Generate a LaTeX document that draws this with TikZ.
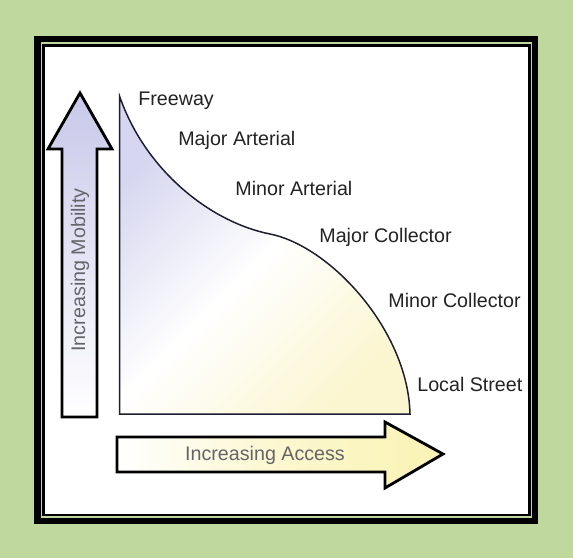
\documentclass[tikz,border=0pt]{standalone}
\usepackage{fontspec}
\setmainfont{Liberation Sans}
\usepackage{tikz}
\usetikzlibrary{positioning}
\usepackage{xcolor}
\definecolor{bggreen}{RGB}{190,216,157}
\definecolor{mobpurple}{RGB}{200,200,234}
\definecolor{accyellow}{RGB}{250,243,180}
\definecolor{curvelav}{RGB}{214,214,240}
\definecolor{curvecream}{RGB}{251,246,208}
\definecolor{curveline}{RGB}{30,30,50}
\definecolor{roadgray}{RGB}{35,35,35}
\definecolor{captiongray}{RGB}{100,100,105}
\tikzstyle{roadtext} = [anchor=base west, inner sep=0pt, text=roadgray, font=\fontsize{11.2}{13}\selectfont]
\tikzstyle{caption} = [inner sep=0pt, text=captiongray, font=\fontsize{11.2}{13}\selectfont]
\tikzstyle{blockarrow} = [line width=1.6pt, line join=miter, draw=black]

\begin{document}
\begin{tikzpicture}[x=0.02cm, y=-0.02cm]
% Background and frame
\useasboundingbox[fill=bggreen] (0,0) rectangle (573,558);
\fill[black] (34,36) rectangle (538,524);
\draw[bggreen, line width=0.6pt] (41.5,43) rectangle (531.5,517);
\fill[white] (45,46.5) rectangle (528,514);

% Mobility / access curve
\coordinate (apex) at (119.5,96);
\coordinate (bend) at (270,234);
\coordinate (foot) at (410,414);
\coordinate (corner) at (119.5,414);
\draw[line width=0.85pt, draw=curveline, top color=curvelav, bottom color=curvecream, middle color=white, shading angle=45]
  (corner) -- (apex) .. controls (145,170) and (210,222) .. (bend)
  .. controls (330,246) and (408,330) .. (foot) -- cycle;

% Increasing Mobility arrow
\draw[blockarrow, top color=mobpurple, bottom color=white]
  (62,417) -- (62,149) -- (48,149) -- (80,93) -- (112,149) -- (97,149) -- (97,417) -- cycle;
\node[caption, rotate=90] (mobility) at (80,270) {Increasing Mobility};

% Increasing Access arrow
\draw[blockarrow, left color=white, right color=accyellow, middle color=white!35!accyellow]
  (117,437) -- (385,437) -- (385,422) -- (443,454) -- (385,488) -- (385,472) -- (117,472) -- cycle;
\node[caption] (access) at (265,455) {Increasing Access};

% Road classes along the curve
\node[roadtext] (freeway) at (138,105) {Freeway};
\node[roadtext] (majart) at (178,145) {Major Arterial};
\node[roadtext] (minart) at (235,195) {Minor Arterial};
\node[roadtext] (majcol) at (319,242) {Major Collector};
\node[roadtext] (mincol) at (388,307) {Minor Collector};
\node[roadtext] (local) at (417,391) {Local Street};
\end{tikzpicture}
\end{document}
